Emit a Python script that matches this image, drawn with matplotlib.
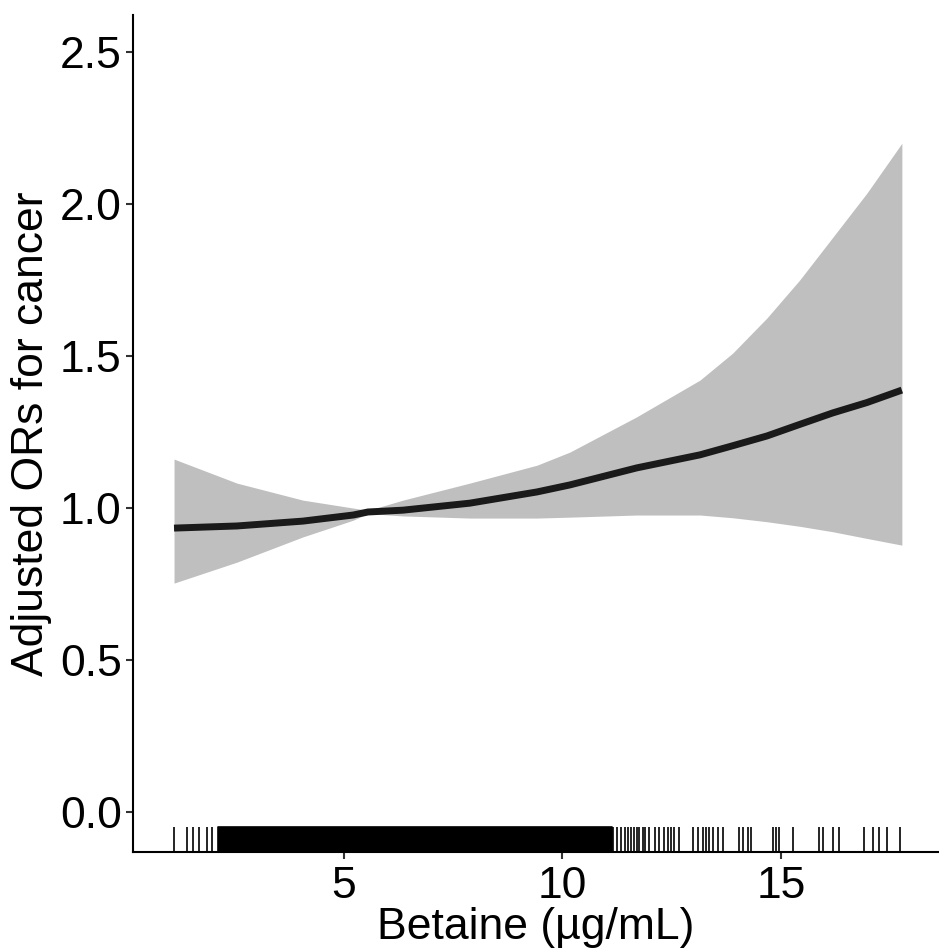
import numpy as np
import matplotlib
matplotlib.use("Agg")
import matplotlib.pyplot as plt
import matplotlib.transforms as mtransforms

# spline fit
betaine = [1.11, 2.55, 4.06, 5.21, 5.55, 6.35, 7.88, 9.42, 10.17, 11.70,
           13.15, 13.90, 14.68, 15.43, 16.19, 16.97, 17.77]
or_fit = [0.934, 0.941, 0.957, 0.977, 0.987, 0.993, 1.016, 1.053, 1.076, 1.132,
          1.175, 1.205, 1.237, 1.275, 1.313, 1.347, 1.388]
or_upper = [1.161, 1.082, 1.026, 1.000, 0.992, 1.026, 1.082, 1.141, 1.184, 1.300,
            1.421, 1.510, 1.625, 1.750, 1.891, 2.036, 2.200]
or_lower = [0.753, 0.822, 0.905, 0.960, 0.982, 0.974, 0.967, 0.967, 0.970, 0.977,
            0.977, 0.968, 0.955, 0.940, 0.922, 0.900, 0.878]

# rug: sparse observations and the solid dense block
rug_sparse = [1.11, 1.41, 1.54, 1.68, 1.87, 1.98,
              11.15, 11.24, 11.34, 11.44, 11.49, 11.57, 11.65, 11.70, 11.76, 11.84,
              11.90, 11.99, 12.11, 12.22, 12.33, 12.41, 12.49, 12.56, 12.68, 12.98,
              13.10, 13.21, 13.29, 13.36, 13.44, 13.55, 13.67, 14.05, 14.13, 14.24,
              14.32, 14.81, 14.90, 14.96, 15.27, 15.88, 15.96, 16.19, 16.34, 16.91,
              17.10, 17.25, 17.44, 17.73]
rug_dense = (2.12, 11.13)

plt.rcParams['font.family'] = ['Liberation Sans', 'DejaVu Sans']

fig = plt.figure(figsize=(9.39, 9.49), dpi=100)
ax = fig.add_axes([0.1416, 0.1022, 0.8584, 0.8820])

ax.fill_between(betaine, or_lower, or_upper, color='#bfbfbf', linewidth=0)
ax.plot(betaine, or_fit, color='#1a1a1a', linewidth=5, solid_capstyle='butt')

trans = mtransforms.blended_transform_factory(ax.transData, ax.transAxes)
ax.vlines(rug_sparse, 0, 0.03, transform=trans, color='black', linewidth=1.2)
ax.fill_between(rug_dense, 0, 0.03, transform=trans, color='black', linewidth=1.2)

ax.set_xlim(0.17, 18.62)
ax.set_ylim(-0.1316, 2.622)
ax.set_xticks([5, 10, 15])
ax.set_yticks([0.0, 0.5, 1.0, 1.5, 2.0, 2.5])
ax.set_yticklabels(['0.0', '0.5', '1.0', '1.5', '2.0', '2.5'])

for s in ['top', 'right']:
    ax.spines[s].set_visible(False)
for s in ['left', 'bottom']:
    ax.spines[s].set_linewidth(1.5)
    ax.spines[s].set_color('black')

ax.tick_params(axis='both', labelsize=32, width=1.5, length=5, color='#333333', labelcolor='black')
ax.tick_params(axis='x', pad=5)
ax.tick_params(axis='y', pad=3)

ax.set_xlabel('Betaine (µg/mL)', fontsize=32, labelpad=0)
ax.set_ylabel('Adjusted ORs for cancer', fontsize=32, labelpad=6)

fig.savefig('out.png', dpi=100)
